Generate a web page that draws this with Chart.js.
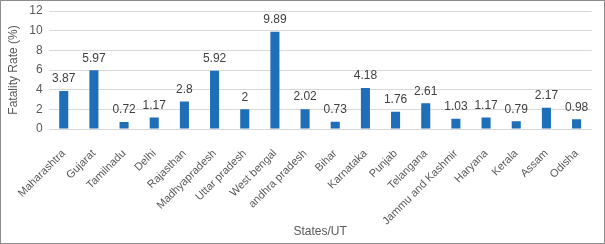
<!DOCTYPE html>
<html><head><meta charset="utf-8">
<script src="https://cdn.jsdelivr.net/npm/chart.js@4/dist/chart.umd.min.js"></script>
<style>
html,body{margin:0;padding:0;background:#fff;}
#wrap{width:605px;height:244px;box-sizing:border-box;border:1px solid #8c8c8c;position:relative;}
canvas{display:block;}
</style></head>
<body><div id="wrap"><canvas id="c" width="603" height="242"></canvas></div>
<script>
const categories = ["Maharashtra","Gujarat","Tamilnadu","Delhi","Rajasthan","Madhyapradesh","Uttar pradesh","West bengal","andhra pradesh","Bihar","Karnataka","Punjab","Telangana","Jammu and Kashmir","Haryana","Kerala","Assam","Odisha"];
const fatalityRate = [3.87,5.97,0.72,1.17,2.8,5.92,2,9.89,2.02,0.73,4.18,1.76,2.61,1.03,1.17,0.79,2.17,0.98];
const yTicks = [0,2,4,6,8,10,12];

const labelPlugin = {
  id:'valueLabels',
  afterDatasetsDraw(chart){
    const ctx = chart.ctx;
    const meta = chart.getDatasetMeta(0);
    ctx.save();
    ctx.font = '12px "Liberation Sans", Arial, sans-serif';
    ctx.fillStyle = '#404040';
    ctx.textAlign = 'center';
    ctx.textBaseline = 'bottom';
    meta.data.forEach((bar,i)=>{
      ctx.fillText(String(fatalityRate[i]), bar.x, bar.y - 6);
    });
    ctx.restore();
  }
};

new Chart(document.getElementById('c'), {
  type:'bar',
  data:{labels:categories, datasets:[{data:fatalityRate, backgroundColor:'#1e6eb8', categoryPercentage:1, barPercentage:0.3}]},
  options:{
    responsive:false, animation:false,
    layout:{padding:{top:0,right:6,left:3,bottom:2}},
    plugins:{legend:{display:false}, tooltip:{enabled:false}},
    scales:{
      x:{
        afterFit(scale){ scale.height = 112; },
        grid:{display:false, drawTicks:false},
        border:{display:false},
        ticks:{maxRotation:45, minRotation:45, autoSkip:false, padding:18, color:'#595959', font:{size:11, family:'"Liberation Sans", Arial, sans-serif'}},
        title:{display:true, text:'States/UT', color:'#595959', font:{size:12, family:'"Liberation Sans", Arial, sans-serif'}, padding:{top:0,bottom:2}}
      },
      y:{
        min:0, max:12,
        afterBuildTicks(axis){ axis.ticks = yTicks.map(v=>({value:v})); },
        afterFit(scale){ scale.paddingTop = 10; scale.paddingBottom = 0; },
        grid:{color:'#d9d9d9', drawTicks:false},
        border:{display:false},
        ticks:{padding:6, color:'#595959', font:{size:12, family:'"Liberation Sans", Arial, sans-serif'}},
        title:{display:true, text:'Fatality Rate (%)', color:'#595959', font:{size:12, family:'"Liberation Sans", Arial, sans-serif'}, padding:{top:0,bottom:2}}
      }
    }
  },
  plugins:[labelPlugin]
});
</script></body></html>
